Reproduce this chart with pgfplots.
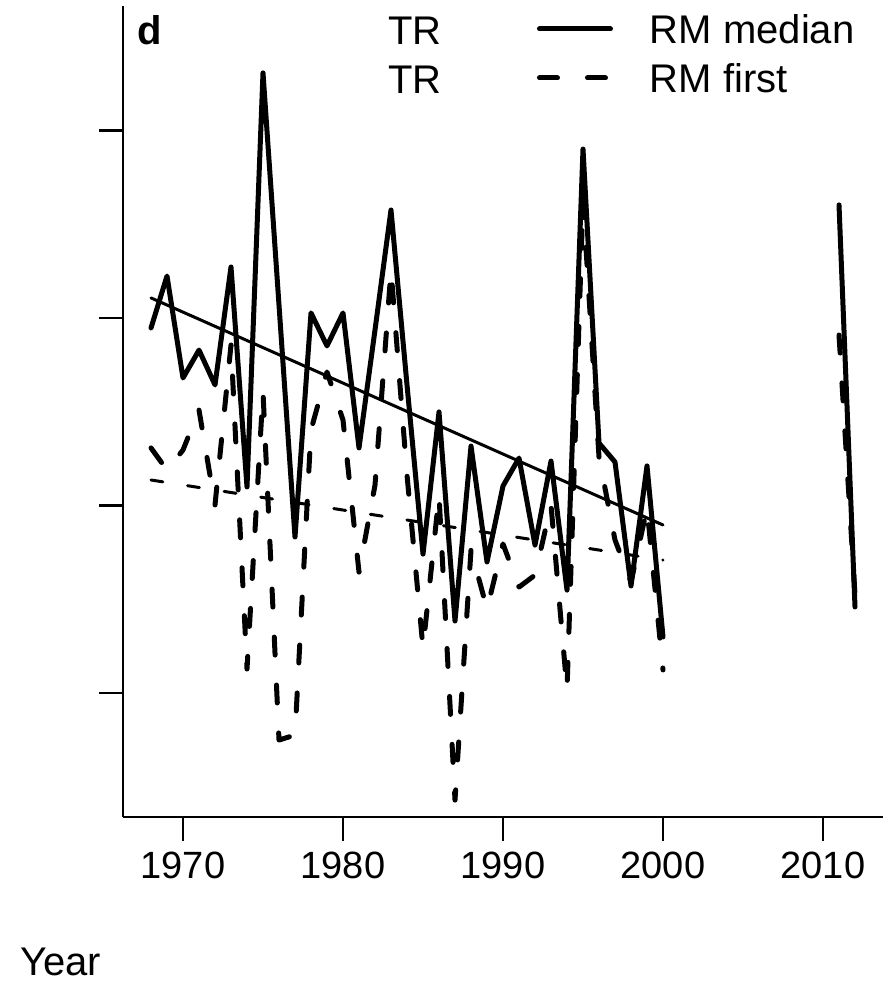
\documentclass[border=0pt]{standalone}
\usepackage{fontspec}
\setmainfont{Liberation Sans}
\usepackage{pgfplots}
\pgfplotsset{compat=1.18}
\begin{document}
\begin{tikzpicture}[x=1pt,y=1pt]
\path[use as bounding box] (0,0) rectangle (894,982);
\begin{axis}[
  at={(123pt,165pt)}, anchor=south west,
  scale only axis, width=760pt, height=811pt,
  xmin=1966.25, xmax=2013.75, ymin=0.3387, ymax=4.664,
  axis x line*=bottom, axis y line*=left,
  axis line style={-, line width=2.5pt, black},
  xtick={1970,1980,1990,2000,2010},
  xticklabels={1970,1980,1990,2000,2010},
  ytick={1,2,3,4}, yticklabels={,,,},
  tick align=outside, major tick length=24pt,
  tick style={line width=2.5pt, black},
  xticklabel style={font=\fontsize{38}{38}\selectfont, inner sep=0pt, anchor=north, yshift=-11pt},
  legend cell align=left,
  legend image code/.code={\draw[#1, line cap=round] (2.5pt,0pt) -- (73.5pt,0pt);},
  legend style={at={(axis description cs:0.5447,1)}, anchor=north west, yshift=-8pt,
    draw=none, fill=none, inner sep=0pt, outer sep=0pt, row sep=19pt, column sep=37pt,
    font=\fontsize{40}{40}\selectfont,
    nodes={inner sep=0pt, text height=30pt, text depth=0pt}},
]
\addlegendimage{black, line width=5pt}
\addlegendentry{RM median}
\addlegendimage{black, line width=5pt, dash pattern=on 18pt off 30pt}
\addlegendentry{RM first}
% RM first (dashed)
\addplot[forget plot, black, line width=5pt, line cap=round, line join=round, dash pattern=on 18pt off 30pt] coordinates {
(1968,2.307) (1969,2.189) (1970,2.296) (1971,2.509) (1972,2.003) (1973,2.856) (1974,1.128) (1975,2.605) (1976,0.749) (1977,0.776) (1978,2.403) (1979,2.712) (1980,2.456) (1981,1.645) (1982,2.109) (1983,3.256) (1984,2.163) (1985,1.24) (1986,2.056) (1987,0.429) (1988,1.763) (1989,1.448) (1990,1.795) (1991,1.565) (1992,1.629) (1993,2.003) (1994,1.016) (1995,3.629) (1996,2.259) (1997,1.816) (1998,1.592) (1999,1.987) (2000,1.123)
};
\addplot[forget plot, black, line width=5pt, line cap=round, line join=round, dash pattern=on 18pt off 30pt] coordinates {
(2011,2.909) (2012,1.523)
};
% RM median (solid)
\addplot[forget plot, black, line width=5pt, line cap=round, line join=round] coordinates {
(1968,2.947) (1969,3.224) (1970,2.680) (1971,2.829) (1972,2.643) (1973,3.272) (1974,2.099) (1975,4.307) (1976,3.069) (1977,1.832) (1978,3.027) (1979,2.851) (1980,3.027) (1981,2.307) (1982,2.936) (1983,3.576) (1984,2.643) (1985,1.741) (1986,2.499) (1987,1.384) (1988,2.317) (1989,1.699) (1990,2.104) (1991,2.253) (1992,1.789) (1993,2.237) (1994,1.549) (1995,3.901) (1996,2.333) (1997,2.232) (1998,1.571) (1999,2.211) (2000,1.299)
};
\addplot[forget plot, black, line width=5pt, line cap=round, line join=round] coordinates {
(2011,3.603) (2012,1.459)
};
% trend lines
\addplot[forget plot, black, line width=3pt, line cap=round] coordinates {(1968,3.107) (2000,1.896)};
\addplot[forget plot, black, line width=3pt, line cap=round, dash pattern=on 12pt off 25pt] coordinates {(1968,2.136) (2000,1.709)};
\end{axis}
\node[anchor=base west, inner sep=0pt, font=\fontsize{40}{40}\selectfont\bfseries] at (137,937) {d};
\node[anchor=base west, inner sep=0pt, font=\fontsize{40}{40}\selectfont] at (388,937) {TR};
\node[anchor=base west, inner sep=0pt, font=\fontsize{40}{40}\selectfont] at (388,888) {TR};
\node[anchor=base west, inner sep=0pt, font=\fontsize{40}{40}\selectfont] at (20,6) {Year};
\end{tikzpicture}
\end{document}
